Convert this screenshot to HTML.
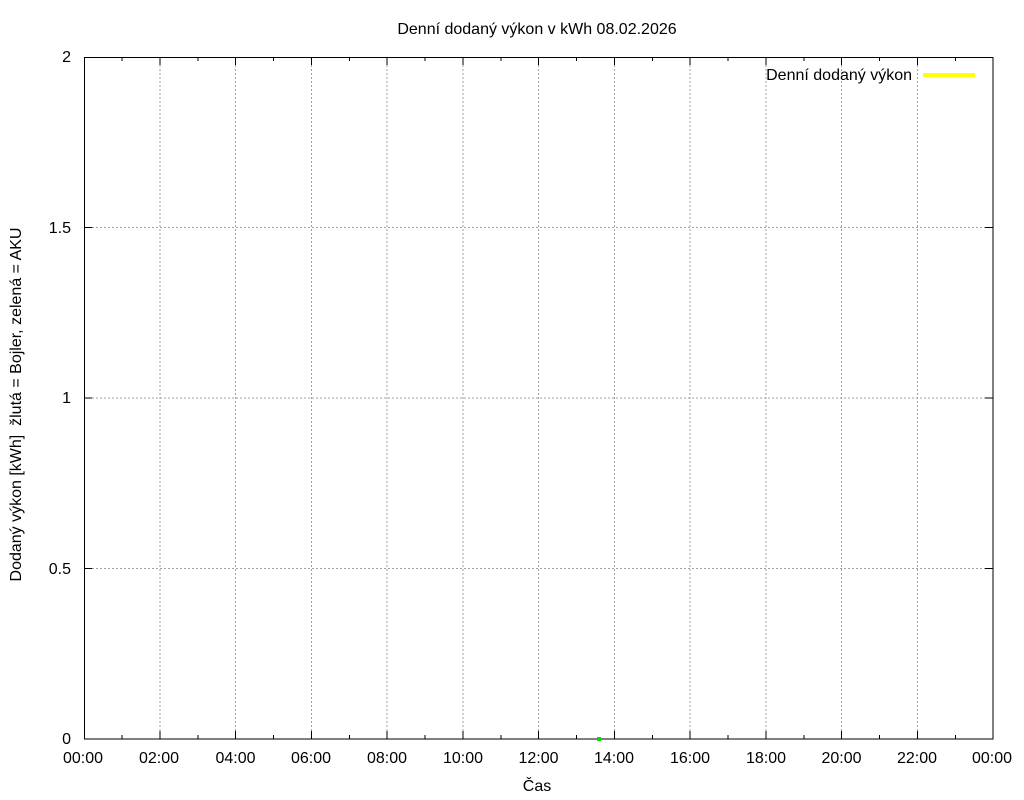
<!DOCTYPE html>
<html><head><meta charset="utf-8"><style>body{margin:0;background:#fff}svg{display:block}</style></head><body>
<svg width="1024" height="800" xmlns="http://www.w3.org/2000/svg" font-family="Liberation Sans, Arial, sans-serif" font-size="16">
<rect width="1024" height="800" fill="#fff"/>
<g stroke="#a0a0a0" stroke-width="1" stroke-dasharray="2,2">
<line x1="160" y1="57" x2="160" y2="739"/><line x1="235.5" y1="57" x2="235.5" y2="739"/><line x1="311.5" y1="57" x2="311.5" y2="739"/><line x1="387" y1="57" x2="387" y2="739"/><line x1="463" y1="57" x2="463" y2="739"/><line x1="538.5" y1="57" x2="538.5" y2="739"/><line x1="614.5" y1="57" x2="614.5" y2="739"/><line x1="690" y1="57" x2="690" y2="739"/><line x1="766" y1="57" x2="766" y2="739"/><line x1="841.5" y1="57" x2="841.5" y2="739"/><line x1="917.5" y1="57" x2="917.5" y2="739"/>
<line x1="84" y1="568.5" x2="993" y2="568.5"/><line x1="84" y1="398" x2="993" y2="398"/><line x1="84" y1="227.5" x2="993" y2="227.5"/>
</g>
<rect x="84.5" y="57.5" width="908.5" height="681.5" fill="none" stroke="#000" stroke-width="1"/>
<g stroke="#000" stroke-width="1">
<path d="M122 739v-4M198 739v-4M273.5 739v-4M349.5 739v-4M425 739v-4M501 739v-4M576.5 739v-4M652.5 739v-4M728 739v-4M804 739v-4M879.5 739v-4M955.5 739v-4"/>
<path d="M122 57v4M198 57v4M273.5 57v4M349.5 57v4M425 57v4M501 57v4M576.5 57v4M652.5 57v4M728 57v4M804 57v4M879.5 57v4M955.5 57v4"/>
<path d="M160 739v-8M235.5 739v-8M311.5 739v-8M387 739v-8M463 739v-8M538.5 739v-8M614.5 739v-8M690 739v-8M766 739v-8M841.5 739v-8M917.5 739v-8"/>
<path d="M160 57v8M235.5 57v8M311.5 57v8M387 57v8M463 57v8M538.5 57v8M614.5 57v8M690 57v8M766 57v8M841.5 57v8M917.5 57v8"/>
<path d="M84 568.5h8M84 398h8M84 227.5h8M993 568.5h-8M993 398h-8M993 227.5h-8"/>
</g>
<g text-anchor="middle">
<text x="83" y="763">00:00</text><text x="159" y="763">02:00</text><text x="235.5" y="763">04:00</text><text x="311" y="763">06:00</text><text x="387" y="763">08:00</text><text x="463" y="763">10:00</text><text x="538.5" y="763">12:00</text><text x="614" y="763">14:00</text><text x="690" y="763">16:00</text><text x="766" y="763">18:00</text><text x="841.5" y="763">20:00</text><text x="917" y="763">22:00</text><text x="992" y="763">00:00</text>
<text x="537" y="791">Čas</text>
<text x="537" y="34">Denní dodaný výkon v kWh 08.02.2026</text>
</g>
<g text-anchor="end">
<text x="71" y="744">0</text><text x="71" y="574">0.5</text><text x="71" y="403">1</text><text x="71" y="233">1.5</text><text x="71" y="62">2</text>
<text x="912" y="80">Denní dodaný výkon</text>
</g>
<line x1="923" y1="75" x2="975" y2="75" stroke="#ffff00" stroke-width="4"/>
<text transform="translate(21,404.5) rotate(-90)" text-anchor="middle">Dodaný výkon [kWh]&#160; žlutá = Bojler, zelená = AKU</text>
<rect x="597" y="737" width="4" height="4" fill="#00dd00"/>
</svg>
</body></html>
